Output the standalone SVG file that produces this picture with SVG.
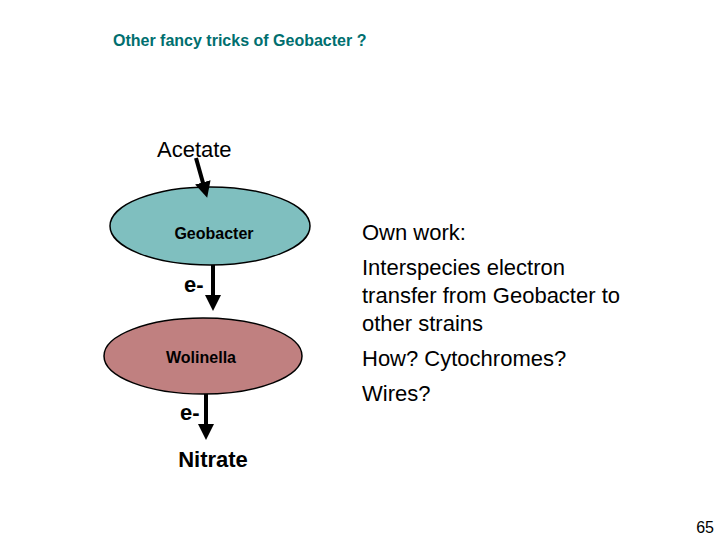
<svg xmlns="http://www.w3.org/2000/svg" width="720" height="540" viewBox="0 0 720 540">
<defs><marker id="ah" markerWidth="4" markerHeight="4" refX="2" refY="2" orient="auto" markerUnits="strokeWidth"><path d="M0,0 L4,2 L0,4 z" fill="#000"/></marker>
<style>.t{font-family:"Liberation Sans",Arial,sans-serif}.b{font-weight:bold}.c{stroke:#000;stroke-width:4;fill:none;marker-end:url(#ah)}</style></defs>
<rect width="720" height="540" fill="#fff"/>
<text class="t b" x="113" y="46" font-size="16" fill="#006f6f">Other fancy tricks of Geobacter ?</text>
<g id="acetate"><text class="t" x="157" y="157" font-size="22">Acetate</text></g>
<g id="geobacter"><ellipse cx="210" cy="226" rx="100" ry="39" fill="#7fbfbf" stroke="#000" stroke-width="1.5"/><text class="t b" x="214" y="239" font-size="16" text-anchor="middle">Geobacter</text></g>
<g id="wolinella"><ellipse cx="203" cy="356" rx="99" ry="38" fill="#c08080" stroke="#000" stroke-width="1.5"/><text class="t b" x="201" y="363" font-size="16" text-anchor="middle">Wolinella</text></g>
<g id="nitrate"><text class="t b" x="213" y="467" font-size="22" text-anchor="middle">Nitrate</text></g>
<g id="connectors">
<path class="c" d="M196,158 L205,190"/>
<path class="c" d="M213,265 L213,303"/>
<path class="c" d="M206,394 L206,432"/>
<text class="t b" x="184" y="292" font-size="22">e-</text>
<text class="t b" x="180" y="420" font-size="22">e-</text>
</g>
<g id="notes" class="t" font-size="22">
<text x="362" y="240">Own work:</text>
<text x="362" y="275">Interspecies electron</text>
<text x="362" y="303">transfer from Geobacter to</text>
<text x="362" y="331">other strains</text>
<text x="362" y="366">How? Cytochromes?</text>
<text x="362" y="401">Wires?</text>
</g>
<text class="t" x="714" y="533" font-size="16" text-anchor="end">65</text>
</svg>
